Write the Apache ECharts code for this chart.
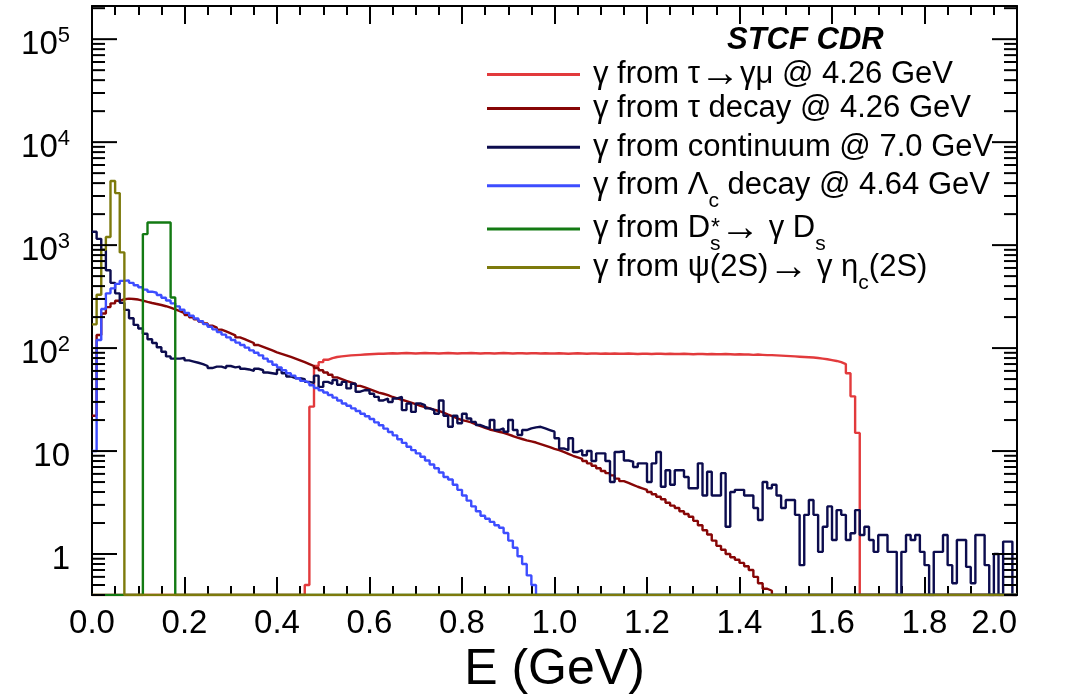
<!DOCTYPE html>
<html>
<head>
<meta charset="utf-8">
<script src="https://cdn.jsdelivr.net/npm/echarts@6/dist/echarts.min.js"></script>
<style>
  html, body { margin: 0; padding: 0; background: #ffffff; }
  #chart { width: 1066px; height: 699px; }
</style>
</head>
<body>
<div id="chart"></div>
<script>
// Photon energy spectra, 0.01 GeV bins, log-scale counts.
const BIN_WIDTH = 0.01;
const N_BINS = 200;
const X_MIN = 0.0;
const X_MAX = 2.0;
const Y_MIN = 0.4;
const Y_MAX = 2.1e5;

const yDecades = [0.1, 1, 10, 100, 1000, 10000, 100000];

const seriesNames = [
  'γ from τ→γμ @ 4.26 GeV',
  'γ from τ decay @ 4.26 GeV',
  'γ from continuum @ 7.0 GeV',
  'γ from Λc decay @ 4.64 GeV',
  'γ from Ds*→ γ Ds',
  'γ from ψ(2S)→ γ ηc(2S)'
];
const seriesColors = ['#e23a3c', '#870606', '#0c0c4e', '#3d4dff', '#137a13', '#7d7a0c'];

// τ→γμ: first filled bin starts at 0.46 GeV
const tauGammaMuStart = 0.46;
const tauGammaMu = [
  0.5, 27, 67, 73, 77, 80, 82, 83, 84, 85,
  85.5, 86, 86.5, 87, 87.5, 88, 88, 88.5, 89, 88.5,
  89, 89.5, 89, 88.5, 89, 89.5, 89, 89, 88.5, 89,
  89.5, 89, 88.5, 89, 89, 89.5, 89, 88.5, 89, 89,
  88.5, 89, 89.5, 89, 88.5, 89, 89, 88.5, 89, 89,
  88.5, 89, 88.5, 88.5, 89, 88.5, 88, 88.5, 89, 88.5,
  88, 88.5, 88.5, 88, 88.5, 88, 88.5, 88, 88, 88.5,
  88, 87.5, 88, 88, 87.5, 88, 88, 87.5, 88, 87.5,
  87.5, 88, 87.5, 87, 87.5, 87.5, 87, 87.5, 87, 87,
  87.5, 87, 86.5, 87, 86.5, 86.5, 86, 86.5, 86, 85.5,
  85.5, 85, 84.5, 84, 83.5, 83, 82.5, 82, 81.5, 81,
  80, 79, 78, 76.5, 75, 73, 70, 57, 34, 15
];

// τ decays
const tauDecayStart = 0.0;
const tauDecay = [
  22, 134, 217, 250, 272, 288, 298, 302, 300, 296,
  289, 281, 274, 268, 262, 255, 247, 238, 229, 219,
  209, 199, 190, 181, 173, 165, 158, 151, 145, 139,
  133, 127, 122, 117, 112, 107, 103, 99, 95, 91,
  88, 85, 82, 79, 76, 73, 70, 67, 64, 61,
  58, 55, 52, 50, 48, 46.5, 45, 43, 41.5, 40,
  38.5, 37, 36, 35, 33.5, 32.5, 31.5, 30.5, 29.5, 28.5,
  27.5, 26.8, 26, 25.2, 24.5, 23.6, 22.6, 21.7, 20.8, 20,
  19.5, 19, 18.2, 17.5, 16.8, 16.2, 15.8, 15.4, 15, 14.5,
  14, 13.5, 13.1, 12.7, 12.4, 12.1, 11.7, 11.3, 10.9, 10.5,
  10.2, 9.8, 9.4, 9.0, 8.7, 8.4, 8.0, 7.6, 7.2, 6.8,
  6.4, 6.1, 5.8, 5.4, 5.1, 4.9, 4.7, 4.5, 4.35, 4.2,
  4.0, 3.8, 3.6, 3.4, 3.15, 2.95, 2.8, 2.6, 2.45, 2.3,
  2.1, 1.9, 1.7, 1.55, 1.35, 1.2, 1.1, 1.0, 0.93, 0.88,
  0.82, 0.76, 0.7, 0.6, 0.52, 0.46, 0.44
];

// continuum at 7.0 GeV
const continuumStart = 0.0;
const continuum = [
  1350, 1150, 900, 570, 430, 340, 275, 235, 195, 168,
  155, 138, 122, 112, 102, 92, 83, 79, 79, 80,
  76, 74, 72, 70, 67, 64, 66, 66, 64, 67,
  65, 66, 63, 62, 60, 63, 61, 58, 57, 56,
  62, 57, 53, 51, 51, 50, 47, 46, 54, 42,
  47, 45, 49, 44, 47, 40.6, 45, 37.7, 39, 39,
  36, 33.6, 31, 32.4, 30, 32.4, 33.6, 25, 29, 24,
  29, 28, 26, 25, 23, 31, 22, 17.2, 22, 18.6,
  23, 20.7, 19.2, 17.9, 17.2, 16.6, 20, 16, 16.6, 15.4,
  20, 16, 14.3, 16, 16.6, 17, 17.2, 16.6, 16, 15.4,
  13.3, 10.6, 10.2, 13.3, 9.8, 10.2, 9.1, 10, 8, 9.5,
  9.5, 8, 5.0, 9.8, 10, 8.1, 7.9, 7.0, 7.6, 7.6,
  5.0, 7.6, 9.8, 4.5, 6.5, 4.7, 6.5, 6.5, 5.6, 4.35,
  4.35, 7.6, 3.7, 6.3, 3.7, 3.7, 6.1, 1.84, 4.0, 4.2,
  4.2, 3.7, 3.7, 2.8, 2.14, 5.0, 4.35, 4.7, 3.7, 2.8,
  3.35, 3.35, 2.4, 0.78, 2.4, 3.35, 2.4, 1.05, 1.84, 2.9,
  1.37, 2.67, 2.4, 1.37, 1.59, 2.67, 1.53, 1.84, 1.37, 1.05,
  1.53, 1.53, 1.05, 1.05, 0, 1.05, 1.53, 1.37, 1.53, 1.05,
  0.78, 0, 1.05, 1.05, 1.53, 0.78, 0.52, 1.37, 1.37, 0.75,
  0.52, 1.53, 1.53, 0.78, 0, 1.0, 0, 1.32, 1.32, 0
];

// Λc decays at 4.64 GeV
const lambdaCStart = 0.0;
const lambdaC = [
  10, 120, 240, 340, 380, 420, 450, 455, 430, 408,
  390, 370, 353, 345, 328, 308, 290, 272, 254, 236,
  220, 206, 194, 182, 171, 161, 152, 143, 135, 127,
  120, 113, 107, 101, 95, 90, 85, 79, 74, 69,
  65, 61, 57, 54, 51, 48, 46, 43.5, 41, 39,
  37, 35, 33, 31, 29, 27.5, 26, 24.5, 23, 21.8,
  20.5, 19, 17.8, 16.5, 15.3, 14.2, 13, 12, 11, 10.2,
  9.5, 8.8, 8.1, 7.4, 6.8, 6.2, 5.6, 5.3, 4.7, 4.2,
  3.7, 3.3, 2.9, 2.6, 2.35, 2.2, 2.05, 1.9, 1.8, 1.6,
  1.35, 1.15, 0.95, 0.8, 0.62, 0.5
];

// Ds* → γ Ds
const dsStarStart = 0.11;
const dsStar = [1280, 1660, 1660, 1660, 1660, 1660, 310];

// ψ(2S) → γ ηc(2S)
const psi2SStart = 0.0;
const psi2S = [170, 330, 900, 1200, 4200, 3200, 850];

const FONT = '"Liberation Sans", Arial, Helvetica, sans-serif';

// Full 200-bin outline; empty bins sit on the lower frame edge as in a log-scale histogram.
function histogram(startEdge, values) {
  const startBin = Math.round(startEdge / BIN_WIDTH);
  const pts = [];
  for (let i = 0; i < N_BINS; i++) {
    const j = i - startBin;
    const v = (j >= 0 && j < values.length) ? values[j] : 0;
    pts.push([+(i * BIN_WIDTH).toFixed(2), v > 0 ? v : Y_MIN]);
  }
  pts.push([X_MAX, pts[pts.length - 1][1]]);
  return pts;
}

const histData = [
  histogram(tauGammaMuStart, tauGammaMu),
  histogram(tauDecayStart, tauDecay),
  histogram(continuumStart, continuum),
  histogram(lambdaCStart, lambdaC),
  histogram(dsStarStart, dsStar),
  histogram(psi2SStart, psi2S)
];

const legendRich = {
  [seriesNames[0]]: '{n|γ from τ}{ar|→}{n|γμ @ 4.26 GeV}',
  [seriesNames[1]]: '{n|γ from τ decay @ 4.26 GeV}',
  [seriesNames[2]]: '{n|γ from continuum @ 7.0 GeV}',
  [seriesNames[3]]: '{n|γ from Λ}{sub|c}{n| decay @ 4.64 GeV}',
  [seriesNames[4]]: '{n|γ from D}{subs|s}{sup|*}{ar|→}{n| γ D}{sub|s}',
  [seriesNames[5]]: '{n|γ from ψ(2S)}{ar|→}{n| γ η}{sub|c}{n|(2S)}'
};

const LEGEND_ROW_H = 38.6;
const LEGEND_FIRST_Y = 73;
const LEGEND_FONT = 31;
const LEGEND_HALF_H = 18.5;  // half of the single-line legend item height
const SUB_DROP = 31;         // top padding that lowers the subscripts

const legendText = {
  fontFamily: FONT,
  fontSize: LEGEND_FONT,
  color: '#000',
  padding: [0, 0, 0, 8],
  rich: {
    n: { fontFamily: FONT, fontSize: LEGEND_FONT, color: '#000', padding: [14, 0, 14, 0] },
    ar: { fontFamily: FONT, fontSize: 40, color: '#000' },
    sub: { fontFamily: FONT, fontSize: 21, color: '#000', padding: [SUB_DROP, 0, 0, 0] },
    subs: { fontFamily: FONT, fontSize: 21, color: '#000', padding: [SUB_DROP, 0, 0, 0], width: 1 },
    sup: { fontFamily: FONT, fontSize: 23, color: '#000' }
  }
};

// One legend block per row keeps the row pitch fixed.
const legends = seriesNames.map((name, i) => ({
  orient: 'horizontal',
  left: 487,
  top: LEGEND_FIRST_Y + i * LEGEND_ROW_H - LEGEND_HALF_H,
  itemWidth: 93,
  itemHeight: 3,
  itemGap: 0,
  padding: 0,
  icon: 'rect',
  selectedMode: false,
  data: [name],
  formatter: n => legendRich[n],
  textStyle: legendText
}));

const chart = echarts.init(document.getElementById('chart'), null, { renderer: 'canvas' });

const lineSeries = seriesNames.map((name, k) => ({
  name,
  type: 'line',
  step: 'end',
  data: histData[k],
  showSymbol: false,
  symbol: 'none',
  clip: true,
  lineStyle: { color: seriesColors[k], width: 2.4 },
  itemStyle: { color: seriesColors[k] },
  emphasis: { disabled: true },
  z: 3 + k
}));

// Decade and 2..9 sub-decade ticks on both vertical frame edges.
const yTickSeries = {
  type: 'custom',
  coordinateSystem: 'cartesian2d',
  silent: true,
  data: [[X_MIN, 1]],
  z: 20,
  renderItem(params, api) {
    const children = [];
    yDecades.forEach(d => {
      for (let m = 1; m <= 9; m++) {
        const v = d * m;
        if (v < Y_MIN || v > Y_MAX) continue;
        const len = (m === 1) ? 25 : 13;
        const y = api.coord([X_MIN, v])[1];
        const xl = api.coord([X_MIN, v])[0];
        const xr = api.coord([X_MAX, v])[0];
        children.push({ type: 'line', shape: { x1: xl, y1: y, x2: xl + len, y2: y },
          style: { stroke: '#000', lineWidth: 2 } });
        children.push({ type: 'line', shape: { x1: xr, y1: y, x2: xr - len, y2: y },
          style: { stroke: '#000', lineWidth: 2 } });
      }
    });
    return { type: 'group', children };
  }
};

const xAxisBase = {
  type: 'value',
  min: X_MIN,
  max: X_MAX,
  interval: 0.2,
  axisLine: { show: true, onZero: false, lineStyle: { color: '#000', width: 2 } },
  axisTick: { show: true, inside: true, length: 18, lineStyle: { color: '#000', width: 2 } },
  minorTick: { show: true, splitNumber: 4, length: 9, lineStyle: { color: '#000', width: 2 } },
  splitLine: { show: false },
  minorSplitLine: { show: false }
};

const yAxisBase = {
  type: 'log',
  logBase: 10,
  min: Y_MIN,
  max: Y_MAX,
  axisLine: { show: true, onZero: false, lineStyle: { color: '#000', width: 2 } },
  axisTick: { show: false },
  minorTick: { show: false },
  splitLine: { show: false }
};

function decadeLabel(v) {
  const lg = Math.log10(v);
  const e = Math.round(lg);
  if (Math.abs(lg - e) > 1e-6 || e < 0) return '';
  if (e === 0) return '{b|1}';
  if (e === 1) return '{b|10}';
  return '{b|10}{e|' + e + '}';
}

const option = {
  animation: false,
  backgroundColor: '#ffffff',
  grid: { left: 92, right: 49, top: 6, bottom: 104, containLabel: false, outerBoundsMode: 'none' },
  title: {
    text: 'STCF CDR',
    left: 727,
    top: 25,
    padding: 0,
    textStyle: { fontFamily: FONT, fontSize: 31, fontWeight: 'bold', fontStyle: 'italic', color: '#000' }
  },
  legend: legends,
  xAxis: [
    Object.assign({}, xAxisBase, {
      position: 'bottom',
      name: 'E (GeV)',
      nameLocation: 'middle',
      nameGap: 46,
      nameTextStyle: { fontFamily: FONT, fontSize: 50, color: '#000', verticalAlign: 'top' },
      axisLabel: {
        show: true, margin: 12, color: '#000', fontFamily: FONT, fontSize: 33,
        alignMaxLabel: 'right',
        formatter: v => v.toFixed(1)
      }
    }),
    Object.assign({}, xAxisBase, {
      position: 'top',
      axisLabel: { show: false }
    })
  ],
  yAxis: [
    Object.assign({}, yAxisBase, {
      position: 'left',
      axisLabel: {
        show: true, margin: 22, color: '#000', fontFamily: FONT, fontSize: 33,
        showMinLabel: false, showMaxLabel: false,
        padding: [8, 0, 0, 0],
        formatter: decadeLabel,
        rich: {
          b: { fontFamily: FONT, fontSize: 33, color: '#000', lineHeight: 36, verticalAlign: 'bottom' },
          e: { fontFamily: FONT, fontSize: 22, color: '#000', lineHeight: 36, verticalAlign: 'top' }
        }
      }
    }),
    Object.assign({}, yAxisBase, {
      position: 'right',
      axisLabel: { show: false }
    })
  ],
  series: lineSeries.concat([yTickSeries])
};

chart.setOption(option);
</script>
</body>
</html>
